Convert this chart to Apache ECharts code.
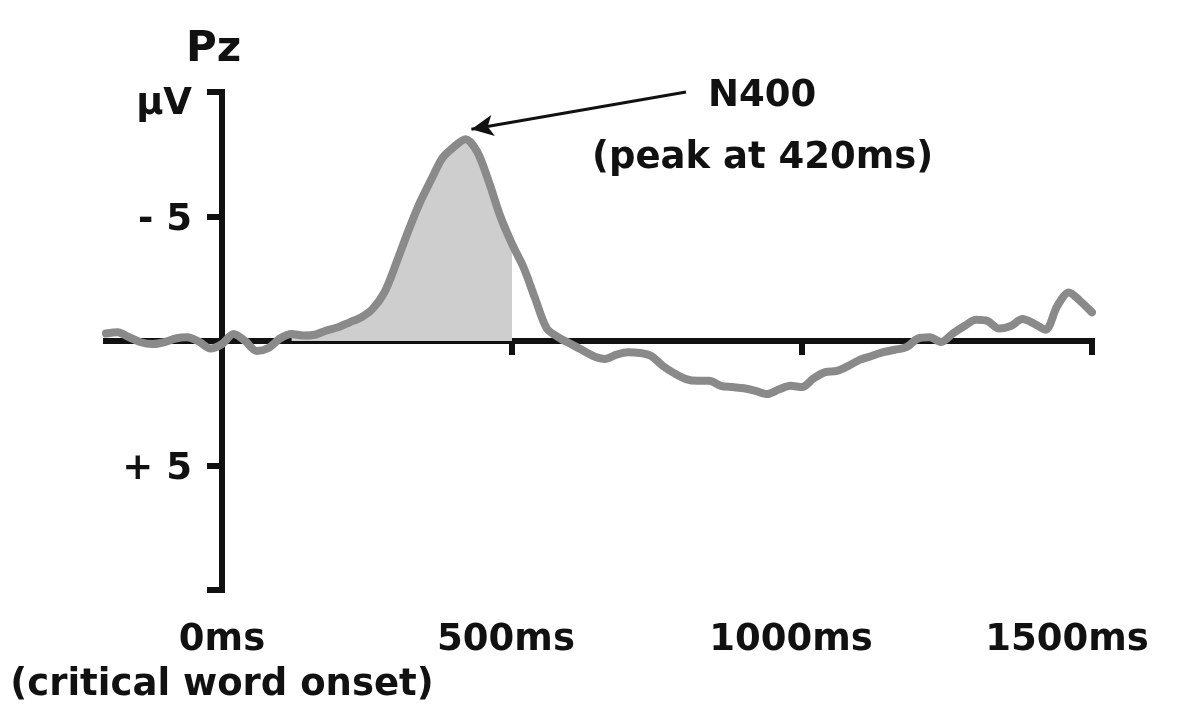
<!DOCTYPE html>
<html>
<head>
<meta charset="utf-8">
<title>Pz N400</title>
<script src="https://cdn.jsdelivr.net/npm/echarts@6/dist/echarts.min.js"></script>
<style>
  html, body { margin: 0; padding: 0; background: #ffffff; }
  #chart { width: 1184px; height: 707px; }
</style>
</head>
<body>
<div id="chart"></div>
<script>
// Grand-average ERP at electrode Pz, sampled every 20 ms (-200 … 1500 ms), values in µV.
const times = [
  -200, -180, -160, -140, -120, -100, -80, -60, -40, -20,
  0, 20, 40, 60, 80, 100, 120, 140, 160, 180,
  200, 220, 240, 260, 280, 300, 320, 340, 360, 380,
  400, 420, 440, 460, 480, 500, 520, 540, 560, 580,
  600, 620, 640, 660, 680, 700, 720, 740, 760, 780,
  800, 820, 840, 860, 880, 900, 920, 940, 960, 980,
  1000, 1020, 1040, 1060, 1080, 1100, 1120, 1140, 1160, 1180,
  1200, 1220, 1240, 1260, 1280, 1300, 1320, 1340, 1360, 1380,
  1400, 1420, 1440, 1460, 1480, 1500
];
const amplitude = [
  -0.30, -0.35, -0.15, 0.05, 0.12, 0.05, -0.10, -0.15, 0.02, 0.30,
  0.12, -0.28, 0.00, 0.40, 0.28, -0.10, -0.28, -0.22, -0.25, -0.42,
  -0.55, -0.75, -0.95, -1.30, -1.95, -3.10, -4.35, -5.50, -6.45, -7.35,
  -7.80, -8.10, -7.60, -6.40, -5.00, -3.90, -2.95, -1.70, -0.50, -0.15,
  0.10, 0.35, 0.60, 0.72, 0.55, 0.45, 0.48, 0.60, 1.00, 1.30,
  1.53, 1.60, 1.60, 1.80, 1.85, 1.90, 2.00, 2.13, 1.95, 1.80,
  1.85, 1.50, 1.25, 1.20, 1.00, 0.75, 0.60, 0.45, 0.35, 0.25,
  -0.10, -0.15, 0.04, -0.30, -0.60, -0.85, -0.80, -0.50, -0.60, -0.88,
  -0.70, -0.45, -1.40, -1.95, -1.60, -1.15
];

// Shaded N400 window (ms)
const windowStart = 120;
const windowEnd = 500;

// Peak annotation
const peakTime = 420;
const peakValue = -8.10;
const annotationLines = ['N400', '(peak at 420ms)'];

// Axis ticks and their labels
const yTicks = [-10, -5, 0, 5, 10];
const yTickText = ['µV', '- 5', '', '+ 5', ''];
const xTicks = [0, 500, 1000, 1500];
const xTickText = ['0ms\n(critical word onset)', '500ms', '1000ms', '1500ms'];

const FONT = '"DejaVu Sans", sans-serif';
const INK = '#111111';

const waveData = times.map((t, i) => [t, amplitude[i]]);
const windowData = waveData.filter(p => p[0] >= windowStart && p[0] <= windowEnd);

// rich-text style used for each bottom time label (right padding shifts it slightly left)
const xLabelStyleKey = { '0': 'a', '500': 'b', '1000': 'c', '1500': 'd' };

const PLOT = { top: 92, bottom: 117, right: 92 };
const labelFont = { fontFamily: FONT, fontWeight: 'bold', fontSize: 37, color: INK };

const chart = echarts.init(document.getElementById('chart'), null, { renderer: 'canvas' });

chart.setOption({
  backgroundColor: '#ffffff',
  animation: false,
  title: {
    text: 'Pz',
    left: 181,
    top: 24,
    textStyle: { fontFamily: FONT, fontWeight: 'bold', fontSize: 42, color: INK }
  },
  grid: [
    // plotting area: axes cross at (0 ms, 0 µV)
    { left: 106, right: PLOT.right, top: PLOT.top, bottom: PLOT.bottom, outerBoundsMode: 'none' },
    // same scale, starting at 0 ms: carries the tick labels
    { left: 222, right: PLOT.right, top: PLOT.top, bottom: PLOT.bottom, outerBoundsMode: 'none' }
  ],
  xAxis: [
    {
      type: 'value',
      gridIndex: 0,
      min: -200,
      max: 1500,
      position: 'bottom',
      axisLine: { show: true, onZero: true, lineStyle: { color: INK, width: 6, cap: 'square' } },
      axisTick: { show: true, customValues: xTicks.slice(1), length: 14, lineStyle: { color: INK, width: 6 } },
      axisLabel: { show: false },
      splitLine: { show: false }
    },
    {
      type: 'value',
      gridIndex: 1,
      min: 0,
      max: 1500,
      position: 'bottom',
      axisLine: { show: false, onZero: false },
      axisTick: { show: false },
      splitLine: { show: false },
      axisLabel: {
        show: true,
        customValues: xTicks,
        margin: 28,
        formatter: function (v) {
          const i = xTicks.indexOf(v);
          if (i < 0) return '';
          const key = xLabelStyleKey[String(v)] || 'a';
          return xTickText[i].split('\n').map(s => '{' + key + '|' + s + '}').join('\n');
        },
        ...labelFont,
        lineHeight: 45,
        align: 'center',
        rich: {
          a: { ...labelFont, lineHeight: 45 },
          b: { ...labelFont, lineHeight: 45, padding: [0, 12, 0, 0] },
          c: { ...labelFont, lineHeight: 45, padding: [0, 22, 0, 0] },
          d: { ...labelFont, lineHeight: 45, padding: [0, 50, 0, 0] }
        }
      }
    }
  ],
  yAxis: [
    {
      type: 'value',
      gridIndex: 0,
      inverse: true,
      min: -10,
      max: 10,
      interval: 5,
      axisLine: { show: true, onZero: true, lineStyle: { color: INK, width: 6, cap: 'square' } },
      axisTick: { show: true, length: 15, lineStyle: { color: INK, width: 6 } },
      splitLine: { show: false },
      axisLabel: { show: false }
    },
    {
      type: 'value',
      gridIndex: 1,
      inverse: true,
      min: -10,
      max: 10,
      interval: 5,
      axisLine: { show: false, onZero: false },
      axisTick: { show: false },
      splitLine: { show: false },
      axisLabel: {
        margin: 30,
        formatter: function (v) {
          const i = yTicks.indexOf(v);
          const txt = i >= 0 ? yTickText[i] : '';
          if (!txt) return '';
          return v === -10 ? '{u|' + txt + '}' : '{n|' + txt + '}';
        },
        rich: {
          u: { ...labelFont, padding: [24, 0, 0, 0] },
          n: { ...labelFont, padding: [8, 0, 0, 0] }
        }
      }
    }
  ],
  series: [
    {
      name: 'N400 window',
      type: 'line',
      xAxisIndex: 0,
      yAxisIndex: 0,
      data: windowData,
      smooth: 0.3,
      symbol: 'none',
      clip: false,
      lineStyle: { width: 0, opacity: 0 },
      areaStyle: { color: '#cecece', opacity: 1, origin: 0 },
      z: 1,
      silent: true
    },
    {
      name: 'Pz',
      type: 'line',
      xAxisIndex: 0,
      yAxisIndex: 0,
      data: waveData,
      smooth: 0.3,
      symbol: 'none',
      clip: false,
      lineStyle: { color: '#8a8a8a', width: 8, join: 'round', cap: 'round' },
      z: 3,
      markLine: {
        silent: true,
        symbol: ['none', 'arrow'],
        symbolSize: [16, 22],
        label: { show: false },
        lineStyle: { color: INK, width: 3, type: 'solid' },
        data: [[
          { coord: [800, -10.0] },
          { coord: [peakTime + 10, peakValue - 0.4] }
        ]]
      }
    }
  ],
  graphic: [
    {
      type: 'text',
      x: 708,
      y: 96,
      style: {
        text: annotationLines[0],
        font: 'bold 37px ' + FONT,
        fill: INK,
        align: 'left',
        verticalAlign: 'middle'
      },
      z: 10
    },
    {
      type: 'text',
      x: 592,
      y: 158,
      style: {
        text: annotationLines[1],
        font: 'bold 37px ' + FONT,
        fill: INK,
        align: 'left',
        verticalAlign: 'middle'
      },
      z: 10
    }
  ]
});
</script>
</body>
</html>
